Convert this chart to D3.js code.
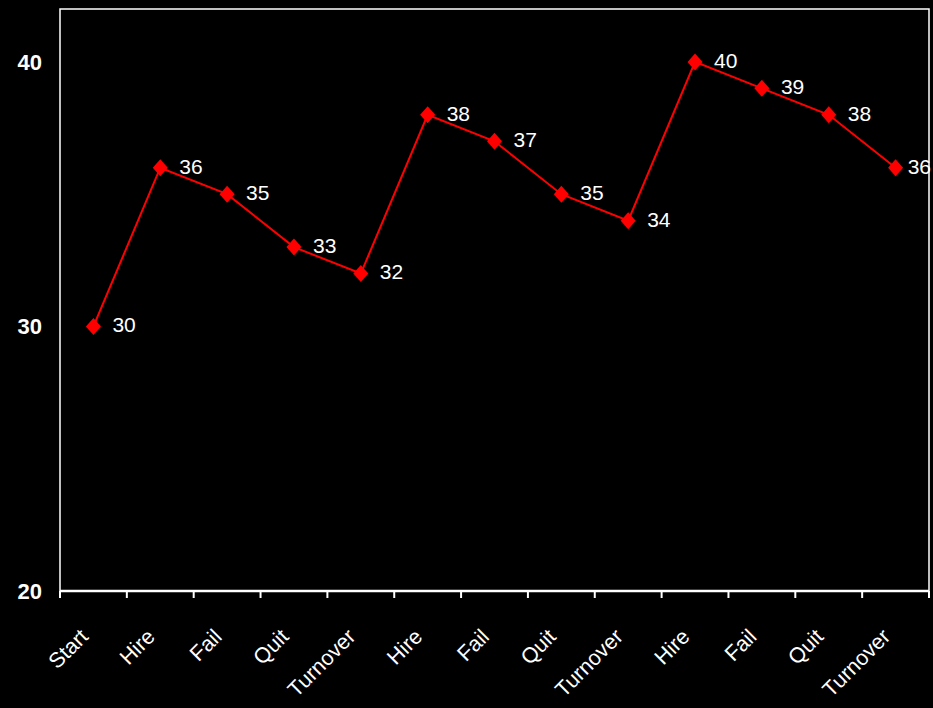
<!DOCTYPE html>
<html>
<head>
<meta charset="utf-8">
<script src="https://cdn.jsdelivr.net/npm/d3@7"></script>
<style>
  body { margin: 0; background: #000; }
  svg { display: block; }
  text { font-family: "Liberation Sans", Arial, sans-serif; fill: #fff; }
</style>
</head>
<body>
<svg id="chart" width="933" height="708"></svg>
<script>
// chart data
const categories = ["Start", "Hire", "Fail", "Quit", "Turnover", "Hire", "Fail", "Quit", "Turnover", "Hire", "Fail", "Quit", "Turnover"];
const values = [30, 36, 35, 33, 32, 38, 37, 35, 34, 40, 39, 38, 36];
const yTicks = [20, 30, 40];

const svg = d3.select("#chart");
const margin = {left: 60, right: 4, top: 9, bottom: 117};
const width = 933, height = 708;
const plotRight = width - margin.right;

const x = d3.scaleBand()
    .domain(d3.range(categories.length))
    .range([margin.left, plotRight]);

const y = d3.scaleLinear()
    .domain([20, 42])
    .range([height - margin.bottom, margin.top]);

// frame
svg.append("rect")
    .attr("x", margin.left)
    .attr("y", margin.top)
    .attr("width", plotRight - margin.left)
    .attr("height", height - margin.bottom - margin.top)
    .attr("fill", "none")
    .attr("stroke", "#fff")
    .attr("stroke-width", 1.5);

// x axis
const xAxis = svg.append("g")
    .attr("transform", `translate(0,${height - margin.bottom})`);
xAxis.append("line")
    .attr("x1", margin.left).attr("x2", plotRight)
    .attr("stroke", "#fff").attr("stroke-width", 2.5);
const tickXs = d3.range(categories.length + 1).map(i => margin.left + i * x.step());
xAxis.selectAll(".tick")
    .data(tickXs)
    .enter().append("line")
    .attr("x1", d => d).attr("x2", d => d)
    .attr("y1", 0).attr("y2", 7)
    .attr("stroke", "#fff").attr("stroke-width", 2);

xAxis.selectAll(".lbl")
    .data(categories)
    .enter().append("text")
    .attr("text-anchor", "end")
    .attr("font-size", 21.5)
    .attr("transform", (d, i) => `translate(${x(i) + x.bandwidth() / 2 - 4},${47}) rotate(-45)`)
    .text(d => d);

// y labels
svg.append("g").selectAll("text")
    .data(yTicks)
    .enter().append("text")
    .attr("x", 42)
    .attr("y", d => y(d))
    .attr("dy", "0.36em")
    .attr("text-anchor", "end")
    .attr("font-size", 22)
    .attr("font-weight", "bold")
    .text(d => d);

// line
const cx = (d, i) => x(i) + x.bandwidth() / 2;
svg.append("path")
    .datum(values)
    .attr("fill", "none")
    .attr("stroke", "#ff0000")
    .attr("stroke-width", 2)
    .attr("d", d3.line().x(cx).y(d => y(d)));

const diamond = {
    draw(ctx) {
        ctx.moveTo(0, -8.5);
        ctx.lineTo(7.5, 0);
        ctx.lineTo(0, 8.5);
        ctx.lineTo(-7.5, 0);
        ctx.closePath();
    }
};
svg.append("g").selectAll("path")
    .data(values)
    .enter().append("path")
    .attr("d", d3.symbol(diamond))
    .attr("transform", (d, i) => `translate(${cx(d, i)},${y(d)})`)
    .attr("fill", "#ff0000");

// value labels
const labels = svg.append("g").selectAll("text")
    .data(values)
    .enter().append("text")
    .attr("x", (d, i) => cx(d, i) + 19)
    .attr("y", d => y(d))
    .attr("dy", "0.28em")
    .attr("font-size", 21)
    .text(d => d);
// keep the last label inside the frame
labels.attr("x", function(d, i) {
    const w = this.getComputedTextLength();
    return Math.min(cx(d, i) + 19, plotRight - w + 2);
});
</script>
</body>
</html>
